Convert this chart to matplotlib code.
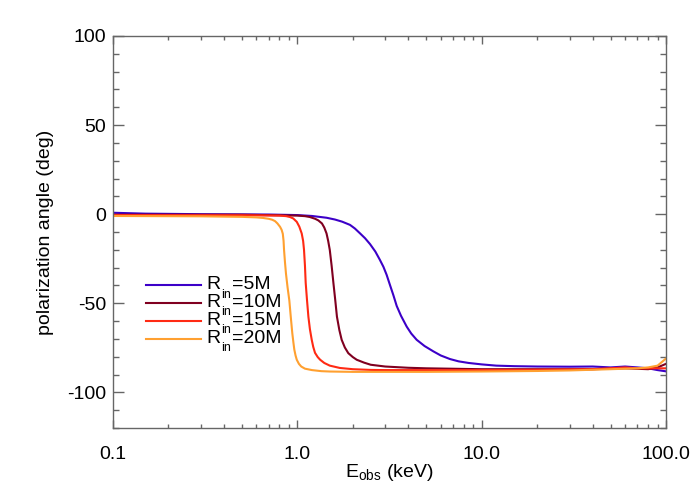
import numpy as np
import matplotlib
matplotlib.use("Agg")
import matplotlib.pyplot as plt
from matplotlib.ticker import FixedLocator, NullFormatter, MultipleLocator
from matplotlib.lines import Line2D

plt.rcParams['font.family'] = ['Liberation Sans', 'DejaVu Sans']
plt.rcParams['mathtext.fontset'] = 'custom'
plt.rcParams['mathtext.rm'] = 'Liberation Sans'
plt.rcParams['axes.unicode_minus'] = False

# ---------------- data ----------------
labels = ["5M", "10M", "15M", "20M"]
colors = ["#3c00c8", "#800020", "#ff2a14", "#ffa030"]

e_5 = [0.1, 0.15, 0.3, 0.7, 1.0, 1.2, 1.44, 1.6, 1.75, 1.93, 2.05, 2.19, 2.33, 2.48, 2.65,
       2.8, 2.93, 3.05, 3.18, 3.32, 3.46, 3.65, 3.92, 4.15, 4.44, 4.9, 5.47, 6.0, 6.73, 7.5,
       8.5, 10, 12, 15, 20, 30, 40, 50, 60, 70, 80, 90, 100]
p_5 = [0.8, 0.3, 0.0, -0.2, -0.5, -1.0, -2.0, -3.0, -4.2, -6.0, -8.0, -10.8, -13.5, -16.8, -21.0,
       -25.5, -29.5, -34.0, -39.7, -45.5, -51.5, -57.0, -63.1, -67.0, -70.5, -74.0, -77.0, -79.3, -81.3, -82.6,
       -83.5, -84.3, -85.0, -85.3, -85.5, -85.6, -85.5, -86.0, -85.5, -86.0, -86.5, -87.5, -88.2]

e_10 = [0.1, 0.5, 1.0, 1.1, 1.17, 1.25, 1.3, 1.36, 1.40, 1.44, 1.47, 1.50, 1.535, 1.57, 1.605,
        1.64, 1.69, 1.74, 1.81, 1.89, 2.0, 2.1, 2.3, 2.5, 3, 4, 5,
        10, 20, 40, 60, 80, 90, 100]
p_10 = [-0.3, -0.3, -0.8, -1.1, -1.6, -2.6, -3.5, -5.2, -7.5, -10.8, -15.0, -20.1, -29.0, -38.8, -48.0,
        -57.5, -65.0, -70.5, -74.8, -78.0, -80.2, -81.7, -83.3, -84.5, -85.5, -86.2, -86.5,
        -87.0, -87.0, -87.0, -86.5, -87.0, -86.0, -84.0]

e_15 = [0.1, 0.5, 0.8, 0.87, 0.913, 0.95, 0.993, 1.025, 1.056, 1.075, 1.087, 1.1, 1.11, 1.128, 1.148,
        1.17, 1.197, 1.22, 1.247, 1.29, 1.33, 1.4, 1.5, 1.7, 2, 2.5, 3,
        10, 20, 40, 60, 70, 100]
p_15 = [-0.5, -0.6, -0.8, -1.1, -1.6, -2.4, -4.3, -7.0, -10.8, -15.0, -20.0, -29.0, -38.5, -48.0, -57.5,
        -64.5, -70.5, -74.5, -77.8, -80.2, -81.7, -83.5, -85.0, -86.3, -87.0, -87.4, -87.5,
        -87.5, -87.3, -87.0, -86.0, -86.5, -86.5]

e_20 = [0.1, 0.3, 0.5, 0.6, 0.65, 0.7, 0.73, 0.757, 0.78, 0.806, 0.822, 0.834, 0.842, 0.847, 0.857,
        0.868, 0.885, 0.905, 0.922, 0.939, 0.952, 0.963, 0.978, 0.993, 1.02, 1.05, 1.1, 1.2, 1.35,
        1.5, 2, 5, 10, 20, 30, 50, 70, 80, 90, 100]
p_20 = [-1.0, -1.2, -1.5, -1.8, -2.1, -2.6, -3.1, -3.9, -5.2, -7.1, -8.8, -11.0, -15.0, -20.0, -27.0,
        -33.5, -41.0, -48.5, -58.0, -66.8, -72.0, -76.0, -79.3, -81.7, -84.0, -85.5, -86.7, -87.5, -88.1,
        -88.3, -88.5, -88.5, -88.3, -88.0, -87.7, -87.0, -86.5, -86.0, -85.0, -81.0]

energies = [e_5, e_10, e_15, e_20]
angles = [p_5, p_10, p_15, p_20]

xticks = [0.1, 1.0, 10.0, 100.0]
xticklabels = ["0.1", "1.0", "10.0", "100.0"]
yticks = [-100, -50, 0, 50, 100]

# ---------------- figure ----------------
W, H = 700, 500
fig = plt.figure(figsize=(7, 5), dpi=100)
ax = fig.add_axes([113 / W, 1 - 428 / H, (666 - 113) / W, (428 - 36) / H])

for e, p, c in zip(energies, angles, colors):
    ax.plot(e, p, color=c, lw=1.5, solid_capstyle='round', solid_joinstyle='round')

ax.set_xscale('log')
ax.set_xlim(0.1, 100)
ax.set_ylim(-120, 100)

frame_col = '#666666'
for s in ax.spines.values():
    s.set_color(frame_col)
    s.set_linewidth(1.0)

ax.xaxis.set_major_locator(FixedLocator(xticks))
ax.set_xticklabels(xticklabels)
minors = [m * d for d in [0.1, 1, 10] for m in range(2, 10)]
ax.xaxis.set_minor_locator(FixedLocator(minors))
ax.xaxis.set_minor_formatter(NullFormatter())
ax.yaxis.set_major_locator(FixedLocator(yticks))
ax.yaxis.set_minor_locator(MultipleLocator(10))

ax.tick_params(axis='both', which='both', direction='in', top=True, right=True,
               color=frame_col, width=1.0, labelsize=14, labelcolor='black')
ax.tick_params(axis='x', which='major', length=5.7, pad=13)
ax.tick_params(axis='x', which='minor', length=2.8)
ax.tick_params(axis='y', which='major', length=7.9, pad=5)
ax.tick_params(axis='y', which='minor', length=4.0)

ax.set_xlabel(r"E$_{\mathregular{obs}}$ (keV)", fontsize=14, labelpad=-1)
ax.set_ylabel("polarization angle (deg)", fontsize=14, labelpad=9)

# ---------------- legend (drawn manually like the original) ----------------
def fx(x):
    return x / W

def fy(y):
    return 1 - y / H

for i, (lab, c) in enumerate(zip(labels, colors)):
    yl = 285 + 17.9 * i
    fig.add_artist(Line2D([fx(146), fx(201)], [fy(yl), fy(yl)], color=c, lw=1.5,
                          transform=fig.transFigure))
    fig.text(fx(206), fy(yl + 4), "R", fontsize=14, va='baseline', ha='left')
    fig.text(fx(221), fy(yl + 12.5), "in", fontsize=9, va='baseline', ha='left')
    fig.text(fx(232), fy(yl + 4), "=" + lab, fontsize=14, va='baseline', ha='left')

fig.savefig("out.png", dpi=100)
